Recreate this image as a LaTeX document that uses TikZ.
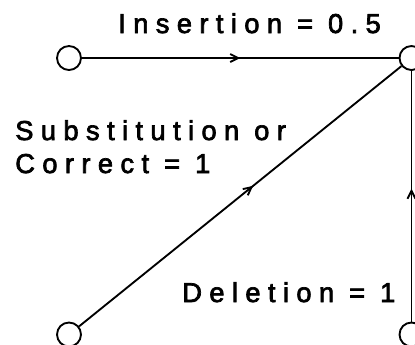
\documentclass[tikz,border=0pt]{standalone}
\usepackage{fontspec}
\usepackage{tikz}
\usetikzlibrary{arrows.meta,positioning,decorations.markings}
\newfontfamily\plotfont[LetterSpace=27,FakeBold=2.5]{Liberation Sans}

\begin{document}
\begin{tikzpicture}[x=0.75pt,y=-0.75pt,
    vertex/.style={draw,circle,line width=1.4pt,minimum size=18pt,inner sep=0pt},
    edge/.style={line width=1.4pt},
    lbl/.style={font={\plotfont\fontsize{20.5}{24}\selectfont},inner sep=0pt,anchor=base west},
    midarrow/.style={postaction={decorate},decoration={markings,
        mark=at position #1 with {\arrow{Straight Barb[length=6pt,width=6pt]}}}}]
  \useasboundingbox (0,0) rectangle (415,344);
  % the four states
  \node[vertex] (inssrc) at (69,58) {};
  \node[vertex] (target) at (411.5,58) {};
  \node[vertex] (subsrc) at (69,334.5) {};
  \node[vertex] (delsrc) at (411.5,334.5) {};
  % transitions
  \draw[edge,midarrow=0.5] (inssrc) -- (target);
  \draw[edge,midarrow=0.54] (subsrc) -- (target);
  \draw[edge,midarrow=0.53] (delsrc) -- (target);
  \node[lbl] (instxt) at (118,33) {Insertion = 0.5};
  \node[lbl] (subtxt) at (15,140) {Substitution or};
  \node[lbl] (cortxt) at (15,173) {Correct = 1};
  \node[lbl] (deltxt) at (182,302) {Deletion = 1};
\end{tikzpicture}
\end{document}
